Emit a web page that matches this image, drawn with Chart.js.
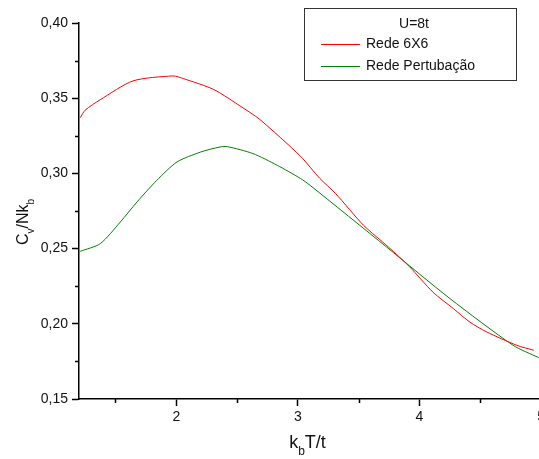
<!DOCTYPE html>
<html>
<head>
<meta charset="utf-8">
<script src="https://cdn.jsdelivr.net/npm/chart.js@4/dist/chart.umd.min.js"></script>
<style>
  html, body { margin: 0; padding: 0; background: #fff; overflow: hidden; }
  canvas { display: block; }
</style>
</head>
<body>
<canvas id="cvChart" width="548" height="459"></canvas>
<script>
// values
const legendTitle = "U=8t";
const seriesNames = ["Rede 6X6", "Rede Pertubação"];

const redX = [1.21, 1.25, 1.375, 1.644, 1.973, 2.06, 2.31, 2.54, 2.685, 3.02, 3.18, 3.31, 3.54, 3.745, 3.92, 4.11, 4.28, 4.415, 4.55, 4.80, 4.94];
const redY = [0.337, 0.342, 0.349, 0.3615, 0.3648, 0.363, 0.3557, 0.344, 0.336, 0.3115, 0.2967, 0.2866, 0.2655, 0.251, 0.2378, 0.2211, 0.21, 0.2011, 0.1947, 0.1857, 0.1824];

const greenX = [1.21, 1.375, 1.54, 1.677, 1.84, 2.006, 2.2, 2.36, 2.42, 2.63, 2.83, 3.02, 3.10, 3.73, 4.25, 4.77, 4.98];
const greenY = [0.2482, 0.2533, 0.2677, 0.281, 0.2954, 0.3076, 0.3142, 0.3176, 0.3178, 0.3132, 0.3054, 0.2967, 0.2921, 0.251, 0.2168, 0.1857, 0.1775];

const xTicks = [2, 3, 4, 5];
const xMinorTicks = [1.5, 2.5, 3.5, 4.5];
const yTicks = [0.15, 0.20, 0.25, 0.30, 0.35, 0.40];
const yMinorTicks = [0.175, 0.225, 0.275, 0.325, 0.375];

const FONT = "Arial, 'Liberation Sans', sans-serif";

function toPoints(xs, ys) {
  return xs.map((x, i) => ({ x: x, y: ys[i] }));
}

// text with subscripts: parts = [[text, isSub], ...]
function drawSubText(ctx, parts, cx, cy, size) {
  const subSize = Math.round(size * 0.65);
  let total = 0;
  parts.forEach(p => {
    ctx.font = (p[1] ? subSize : size) + "px " + FONT;
    total += ctx.measureText(p[0]).width;
  });
  let x = cx - total / 2;
  ctx.textAlign = "left";
  ctx.textBaseline = "alphabetic";
  parts.forEach(p => {
    ctx.font = (p[1] ? subSize : size) + "px " + FONT;
    ctx.fillText(p[0], x, p[1] ? cy + size * 0.38 : cy);
    x += ctx.measureText(p[0]).width;
  });
}

const decorPlugin = {
  id: "decor",
  afterDraw(chart) {
    const ctx = chart.ctx;
    const area = chart.chartArea;
    const xs = chart.scales.x, ys = chart.scales.y;
    ctx.save();

    // minor ticks
    ctx.strokeStyle = "#000";
    ctx.lineWidth = 1.5;
    ctx.beginPath();
    xMinorTicks.forEach(v => {
      const px = Math.round(xs.getPixelForValue(v)) + 0.5;
      ctx.moveTo(px, area.bottom);
      ctx.lineTo(px, area.bottom + 4);
    });
    yMinorTicks.forEach(v => {
      const py = Math.round(ys.getPixelForValue(v)) + 0.5;
      ctx.moveTo(area.left - 4, py);
      ctx.lineTo(area.left, py);
    });
    ctx.stroke();

    // axis titles
    ctx.fillStyle = "#111";
    drawSubText(ctx, [["k", false], ["b", true], ["T/t", false]], 307.5, 448, 18);
    ctx.save();
    ctx.translate(28, 222);
    ctx.rotate(-Math.PI / 2);
    drawSubText(ctx, [["C", false], ["v", true], ["/Nk", false], ["b", true]], 0, 0, 16);
    ctx.restore();

    // legend box
    ctx.fillStyle = "#fff";
    ctx.fillRect(304.5, 8.5, 212, 72);
    ctx.strokeStyle = "#333";
    ctx.lineWidth = 1;
    ctx.strokeRect(304.5, 8.5, 212, 72);
    ctx.fillStyle = "#111";
    ctx.font = "14px " + FONT;
    ctx.textAlign = "center";
    ctx.textBaseline = "middle";
    ctx.fillText(legendTitle, 414, 24);
    chart.data.datasets.forEach((ds, i) => {
      const y = 44 + i * 22;
      ctx.strokeStyle = ds.borderColor;
      ctx.lineWidth = 1;
      ctx.beginPath();
      ctx.moveTo(321, y + 0.5);
      ctx.lineTo(360, y + 0.5);
      ctx.stroke();
      ctx.fillStyle = "#111";
      ctx.textAlign = "left";
      ctx.fillText(ds.label, 366, y);
    });
    ctx.restore();
  }
};

new Chart(document.getElementById("cvChart"), {
  type: "line",
  data: {
    datasets: [
      {
        label: seriesNames[0],
        data: toPoints(redX, redY),
        borderColor: "#ff0000",
        borderWidth: 1,
        pointRadius: 0,
        tension: 0.25,
        fill: false
      },
      {
        label: seriesNames[1],
        data: toPoints(greenX, greenY),
        borderColor: "#008000",
        borderWidth: 1,
        pointRadius: 0,
        tension: 0.25,
        fill: false
      }
    ]
  },
  options: {
    responsive: false,
    animation: false,
    layout: { padding: { top: 23, right: 6, left: 0, bottom: 0 } },
    plugins: {
      legend: { display: false },
      tooltip: { enabled: false }
    },
    scales: {
      x: {
        type: "linear",
        min: 1.2,
        max: 5,
        afterBuildTicks: s => { s.ticks = xTicks.map(v => ({ value: v })); },
        afterFit: s => { s.height = 60; },
        border: { display: true, color: "#000", width: 1.5 },
        grid: { drawOnChartArea: false, drawTicks: true, tickLength: 7, tickColor: "#000", tickWidth: 1.5 },
        ticks: {
          color: "#111",
          padding: 3,
          maxRotation: 0,
          font: { size: 14, family: FONT },
          callback: v => String(v)
        }
      },
      y: {
        type: "linear",
        min: 0.15,
        max: 0.40,
        afterBuildTicks: s => { s.ticks = yTicks.map(v => ({ value: v })); },
        afterFit: s => { s.width = 79; },
        border: { display: true, color: "#000", width: 1.5 },
        grid: { drawOnChartArea: false, drawTicks: true, tickLength: 7, tickColor: "#000", tickWidth: 1.5 },
        ticks: {
          color: "#111",
          padding: 4,
          font: { size: 14, family: FONT },
          callback: v => v.toFixed(2).replace(".", ",")
        }
      }
    }
  },
  plugins: [decorPlugin]
});
</script>
</body>
</html>
